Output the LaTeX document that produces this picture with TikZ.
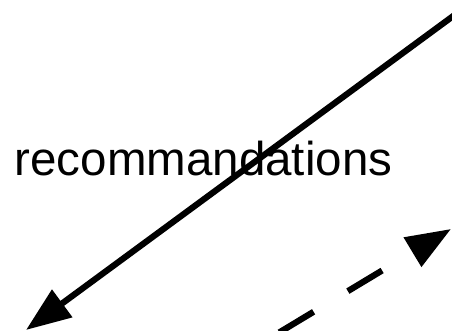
\documentclass[tikz,border=0pt]{standalone}
\usepackage{fontspec}
\setmainfont{Liberation Sans}
\usetikzlibrary{arrows.meta}
\tikzset{
  conn/.style={line width=6.2pt, -{Triangle[length=45pt,width=33pt]}},
  dashconn/.style={conn, dash pattern=on 40pt off 40pt},
  lbl/.style={inner sep=0pt, anchor=base west, font=\fontsize{47.5}{50}\selectfont}
}
\begin{document}
\begin{tikzpicture}[x=1pt,y=1pt]
\useasboundingbox (0,0) rectangle (452,331);
\node[lbl] (t) at (14.5,155) {recommandations};
\coordinate (a1) at (475,331);
\coordinate (a2) at (26,1);
\coordinate (b1) at (210.8,-42.7);
\coordinate (b2) at (451,102);
\draw[conn] (a1) -- (a2);
\draw[dashconn] (b1) -- (b2);
\end{tikzpicture}
\end{document}
